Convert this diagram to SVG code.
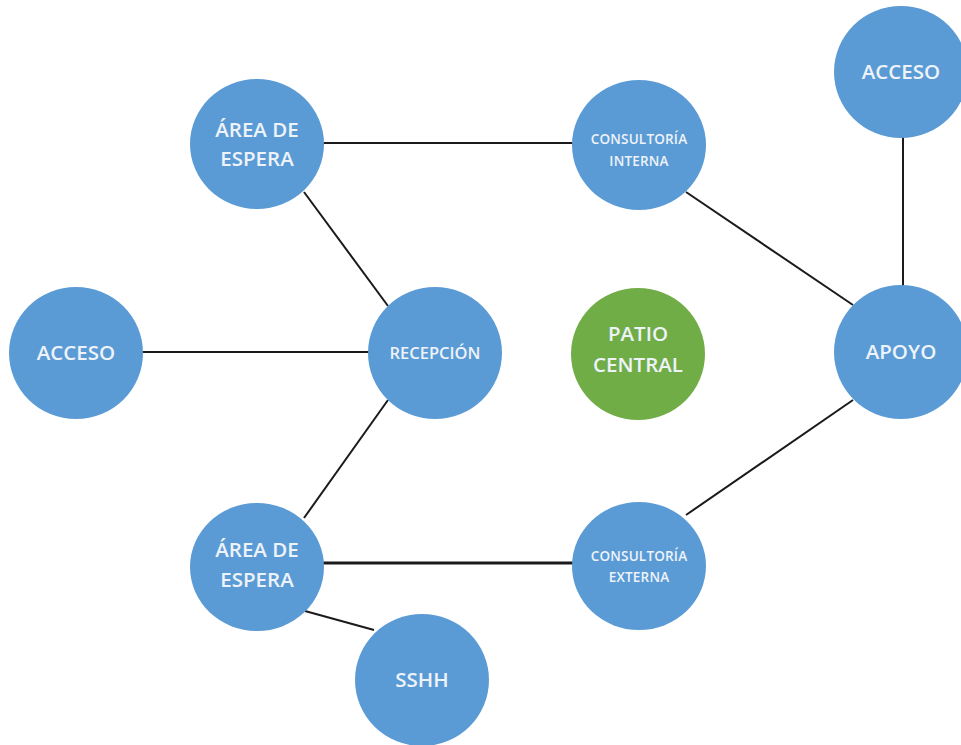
<svg xmlns="http://www.w3.org/2000/svg" width="961" height="745" viewBox="0 0 961 745">
<style>
.n{fill:#5B9BD5}
.g{fill:#70AD47}
.t{fill:#EEF3FA;font-family:"Open Sans","Noto Sans",sans-serif;text-anchor:middle;font-weight:600}
.b{font-size:20.5px}
.s{font-size:13.5px;letter-spacing:0.2px}
.c line{stroke:#1a1a1a;stroke-width:2}
</style>
<rect width="961" height="745" fill="#fff"/>
<g class="c" id="connectors">
<line x1="320" y1="143" x2="580" y2="143"/>
<line x1="304" y1="192" x2="388" y2="306"/>
<line x1="686" y1="192" x2="853" y2="305"/>
<line x1="903" y1="130" x2="903" y2="290"/>
<line x1="140" y1="352" x2="372" y2="352"/>
<line x1="388" y1="400" x2="304" y2="518"/>
<line x1="853" y1="400" x2="686" y2="515"/>
<line x1="320" y1="563" x2="580" y2="563" style="stroke-width:3"/>
<line x1="305" y1="611" x2="374" y2="630"/>
</g>
<g id="area-espera-1"><ellipse class="n" cx="257" cy="144" rx="67" ry="65"/><text class="t b" x="257" y="137">ÁREA DE</text><text class="t b" x="257" y="166">ESPERA</text></g>
<g id="consultoria-interna"><ellipse class="n" cx="639" cy="145" rx="67" ry="65"/><text class="t s" x="639" y="144">CONSULTORÍA</text><text class="t s" x="639" y="166">INTERNA</text></g>
<g id="acceso-1"><ellipse class="n" cx="901" cy="72" rx="67" ry="66"/><text class="t b" x="901" y="79">ACCESO</text></g>
<g id="acceso-2"><ellipse class="n" cx="76" cy="353" rx="67" ry="66"/><text class="t b" x="76" y="360">ACCESO</text></g>
<g id="recepcion"><ellipse class="n" cx="435" cy="353" rx="67" ry="66"/><text class="t" style="font-size:16.5px" x="435" y="359">RECEPCIÓN</text></g>
<g id="patio-central"><ellipse class="g" cx="638" cy="354" rx="67" ry="66"/><text class="t b" x="638" y="341">PATIO</text><text class="t b" x="638" y="372">CENTRAL</text></g>
<g id="apoyo"><ellipse class="n" cx="901" cy="352" rx="67" ry="67"/><text class="t b" x="901" y="359">APOYO</text></g>
<g id="area-espera-2"><ellipse class="n" cx="257" cy="567" rx="67" ry="64"/><text class="t b" x="257" y="557">ÁREA DE</text><text class="t b" x="257" y="587">ESPERA</text></g>
<g id="consultoria-externa"><ellipse class="n" cx="639" cy="566" rx="67" ry="64"/><text class="t s" x="639" y="561">CONSULTORÍA</text><text class="t s" x="639" y="582">EXTERNA</text></g>
<g id="sshh"><ellipse class="n" cx="422" cy="680" rx="67" ry="66"/><text class="t b" x="422" y="687">SSHH</text></g>
</svg>
